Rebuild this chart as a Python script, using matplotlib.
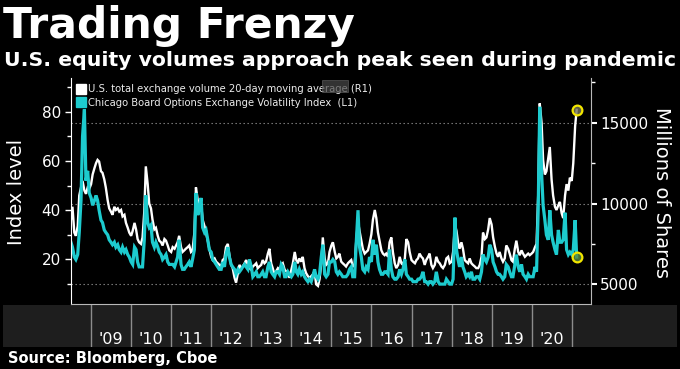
import matplotlib
matplotlib.use("Agg")
import matplotlib.pyplot as plt
import matplotlib.dates as mdates
import pandas as pd
from matplotlib.lines import Line2D
from matplotlib.patches import Rectangle

# semi-monthly readings (1st and 15th), Jul 2008 .. Feb 2021
vix = [
    27, 25, 21, 20, 22, 31, 44, 70, 81, 52, 56, 47,  # 2008 H2
    45, 42, 44, 46, 44, 40, 36, 35, 32, 31, 30, 28, 27, 26, 27, 25, 26, 24, 23, 25, 23, 24, 22, 21,  # 2009
    19, 18, 25, 24, 19, 17, 17, 17, 28, 46, 35, 33, 34, 27, 25, 27, 25, 23, 22, 20, 21, 22, 19, 18,  # 2010
    18, 18, 17, 19, 21, 28, 18, 16, 16, 17, 18, 19, 17, 20, 24, 47, 38, 41, 45, 33, 31, 32, 28, 24,  # 2011
    23, 20, 19, 18, 17, 16, 16, 19, 17, 22, 25, 21, 18, 17, 16, 14, 16, 15, 16, 17, 18, 17, 16, 20,  # 2012
    17, 13, 14, 15, 13, 13, 14, 15, 13, 13, 17, 19, 15, 14, 13, 15, 15, 14, 18, 17, 13, 13, 15, 14,  # 2013
    13, 14, 19, 15, 14, 16, 14, 15, 13, 12, 11, 12, 11, 13, 16, 13, 12, 14, 21, 26, 14, 13, 14, 19,  # 2014
    19, 20, 19, 15, 14, 15, 14, 13, 13, 13, 14, 16, 17, 13, 13, 26, 40, 25, 21, 16, 15, 17, 16, 21,  # 2015
    19, 28, 22, 26, 19, 16, 14, 14, 15, 15, 14, 24, 16, 13, 12, 12, 13, 16, 14, 16, 20, 14, 13, 12,  # 2016
    12, 11, 11, 11, 12, 12, 13, 15, 11, 11, 10, 11, 11, 10, 11, 15, 11, 10, 10, 10, 10, 12, 11, 10,  # 2017
    10, 12, 37, 24, 20, 17, 21, 17, 15, 13, 14, 13, 15, 12, 12, 13, 13, 12, 15, 22, 20, 19, 21, 26,  # 2018
    24, 19, 17, 15, 14, 14, 13, 12, 13, 18, 17, 15, 13, 13, 18, 22, 17, 15, 18, 14, 13, 12, 14, 13,  # 2019
    13, 13, 17, 15, 40, 82, 55, 42, 36, 30, 28, 40, 30, 27, 24, 22, 32, 27, 27, 28, 39, 24, 22, 23,  # 2020
    22, 24, 36, 21,  # 2021
]

volume = [
    9000, 9800, 8200, 8000, 8600, 10500, 11000, 11400, 10800, 10600, 11000, 10900,  # 2008 H2
    11200, 11800, 12200, 12500, 12700, 12600, 12000, 11900, 11500, 11000, 10200, 9700,
    9500, 9300, 9800, 9600, 9700, 9500, 9600, 9200, 9300, 8800, 8500, 8200,  # 2009
    8000, 8300, 8800, 8400, 7800, 7600, 7500, 7900, 9500, 12300, 11200, 10000,
    9700, 9000, 8400, 8500, 8000, 7700, 7600, 7400, 7800, 7700, 7400, 7100,  # 2010
    7000, 7300, 7200, 7400, 7600, 8000, 7300, 7000, 7100, 7200, 7300, 7400,
    7000, 7100, 8200, 11000, 10200, 9600, 10000, 9000, 8600, 8200, 7700, 7200,  # 2011
    6700, 6500, 6600, 6400, 6300, 6200, 6100, 6500, 6600, 7300, 7500, 6800,
    6200, 6000, 5400, 5100, 5700, 6200, 6000, 6100, 6300, 6500, 6200, 6000,  # 2012
    5900, 6100, 6200, 6300, 6000, 6100, 6200, 6500, 6300, 6400, 6900, 7200,
    6300, 6000, 5600, 5800, 6000, 5900, 6200, 6300, 5900, 5800, 5700, 5400,  # 2013
    5900, 6300, 7000, 6500, 6300, 6600, 6400, 6700, 6000, 5700, 5500, 5400,
    5500, 5600, 5800, 5000, 4900, 5300, 6300, 7900, 6600, 6200, 6300, 7000,  # 2014
    7400, 7600, 7000, 6600, 6700, 6900, 6400, 6300, 6200, 6100, 6300, 6400,
    6500, 6100, 6200, 7600, 8900, 8300, 7700, 7200, 6900, 7000, 7100, 7500,  # 2015
    8100, 9000, 9600, 9100, 8200, 7700, 7100, 6900, 6800, 6900, 6700, 7600,
    7900, 7000, 6300, 6000, 6200, 6700, 6300, 6200, 6600, 7800, 7600, 7000,  # 2016
    6500, 6400, 6300, 6500, 6600, 6900, 6700, 6600, 6200, 6500, 6700, 6900,
    6200, 6000, 6200, 6700, 6400, 6300, 6100, 6000, 6200, 6600, 6700, 6300,  # 2017
    6400, 7000, 8700, 8300, 7600, 7200, 7600, 7200, 6500, 6400, 6300, 6600,
    6300, 6200, 6100, 6000, 6000, 6200, 6700, 8200, 7800, 7900, 8400, 9100,  # 2018
    8700, 7900, 7300, 6900, 6700, 7000, 6600, 6400, 6600, 7400, 7200, 6900,
    6500, 6400, 7200, 7700, 7000, 6800, 7100, 6900, 6700, 6800, 6900, 6800,  # 2019
    6900, 7000, 7300, 7500, 10500, 16200, 15000, 12700, 11800, 12000, 12800, 13500,
    11500, 10500, 9800, 9600, 9900, 10100, 9400, 9100, 10500, 11200, 10800, 11600,  # 2020
    11400, 12500, 14800, 15800,  # 2021
]

dates = pd.date_range("2008-07-01", periods=len(vix), freq="SMS")
year_labels = ["'09", "'10", "'11", "'12", "'13", "'14", "'15", "'16", "'17", "'18", "'19", "'20"]
label_years = list(range(2009, 2021))
vol_label = "U.S. total exchange volume 20-day moving average (R1)"
vix_label = "Chicago Board Options Exchange Volatility Index  (L1)"

CYAN = "#1dcbce"
PANEL = "#1a1a1a"
FRAME = "#b8b8b8"
W, H = 680, 369


def fx(px):
    return px / W


def fy(py):
    return 1 - py / H


fig = plt.figure(figsize=(W / 100, H / 100), dpi=100, facecolor="black")

left, right, top, bottom = 70.7, 590.6, 78, 304.3
ax = fig.add_axes([fx(left), fy(bottom), fx(right) - fx(left), (bottom - top) / H])
ax2 = ax.twinx()
ax.set_zorder(2)
ax2.set_zorder(1)
ax.patch.set_visible(False)
ax2.patch.set_facecolor(PANEL)

x0 = pd.Timestamp("2008-06-29")
x1 = pd.Timestamp("2021-06-22")
ax.set_xlim(x0, x1)

ax2.plot(dates, volume, color="white", lw=1.7, solid_joinstyle="miter")
ax.plot(dates, vix, color=CYAN, lw=2.3, solid_joinstyle="miter")

ax2.plot(dates[-1], volume[-1], "o", ms=7, mfc=(0.45, 0.45, 0.35, 0.8),
         mec="#f2e600", mew=1.6, clip_on=False, zorder=5)
ax.plot(dates[-1], vix[-1], "o", ms=7, mfc=(0.35, 0.55, 0.25, 0.8),
        mec="#f2e600", mew=1.6, clip_on=False, zorder=5)

# axes ranges
ax.set_ylim(1.8, 93.7)
ax2.set_ylim(3760, 17772)

ax.set_xticks([pd.Timestamp("2010-01-01"), pd.Timestamp("2015-01-01"), pd.Timestamp("2020-01-01")])
ax.tick_params(axis="x", length=0, labelbottom=False)
ax2.tick_params(axis="x", length=0, labelbottom=False)

grid_kw = dict(color="#8a8a8a", linestyle=(0, (1.2, 2.4)), lw=0.8)
ax2.grid(axis="x", **grid_kw)
ax2.grid(axis="y", which="major", **grid_kw)

ax.set_yticks([20, 40, 60, 80])
ax.set_yticks([10, 30, 50, 70, 90], minor=True)
ax.tick_params(axis="y", which="major", colors="white", direction="out",
               length=4, width=1, labelsize=11, pad=3)
ax.tick_params(axis="y", which="minor", colors="white", direction="out",
               length=3, width=1)

ax2.set_yticks([5000, 10000, 15000])
ax2.set_yticks([7500, 12500, 17500], minor=True)
ax2.tick_params(axis="y", which="major", colors="white", direction="out",
                length=4, width=1.5, labelsize=11, pad=3)
ax2.tick_params(axis="y", which="minor", colors="white", direction="out",
                length=3, width=1)

for s in ["top", "right"]:
    ax.spines[s].set_visible(False)
ax.spines["left"].set_color("white")
ax.spines["bottom"].set_color(FRAME)
for s in ["top", "left", "bottom"]:
    ax2.spines[s].set_visible(False)
ax2.spines["right"].set_color(FRAME)

# legend
handles = [
    Line2D([], [], marker="s", ls="", ms=6.5, mfc="white", mec="white"),
    Line2D([], [], marker="s", ls="", ms=6.5, mfc=CYAN, mec=CYAN),
]
ax.legend(handles, [vol_label, vix_label], loc="upper left",
          bbox_to_anchor=(0.012, 0.972), frameon=False, fontsize=7.2,
          labelcolor="#ececec", handlelength=0.8, handletextpad=0.35,
          labelspacing=0.34, borderpad=0, borderaxespad=0)

fig.add_artist(Rectangle((fx(322), fy(92)), fx(348) - fx(322), 12 / H,
                         transform=fig.transFigure, facecolor="#4a4a4a",
                         edgecolor="#707070", lw=0.5, alpha=0.7, zorder=10))

# bottom year band
b_left, b_right, b_top, b_bottom = 3.3, 676.7, 305, 347.3
band = fig.add_axes([fx(b_left), fy(b_bottom), fx(b_right) - fx(b_left), (b_bottom - b_top) / H])
band.set_facecolor("#1e1e1e")
d0, d1 = mdates.date2num(x0), mdates.date2num(x1)
per_px = (d1 - d0) / (right - left)
band.set_xlim(d0 - (left - b_left) * per_px, d1 + (b_right - right) * per_px)
band.set_ylim(0, 1)
band.set_xticks([])
band.set_yticks([])
for s in band.spines.values():
    s.set_visible(False)
for yr in range(2009, 2022):
    band.axvline(mdates.date2num(pd.Timestamp(f"{yr}-01-01")), color="#8c8c8c", lw=1)
for yr, lab in zip(label_years, year_labels):
    band.text(mdates.date2num(pd.Timestamp(f"{yr}-07-02")), (b_bottom - 343.7) / (b_bottom - b_top),
              lab, color="white", fontsize=11.5, ha="center", va="baseline")

# texts
fig.text(fx(3), fy(38), "Trading Frenzy", color="white", fontsize=30.5,
         fontweight="bold", va="baseline")
fig.text(fx(4), fy(66), "U.S. equity volumes approach peak seen during pandemic",
         color="white", fontsize=14.7, fontweight="bold", va="baseline")
fig.text(fx(8), fy(363.5), "Source: Bloomberg, Cboe", color="white", fontsize=10.5,
         fontweight="bold", va="baseline")
fig.text(fx(17), fy(192), "Index level", color="white", fontsize=14,
         rotation=90, ha="center", va="center")
fig.text(fx(662), fy(192.5), "Millions of Shares", color="white", fontsize=14,
         rotation=270, ha="center", va="center")

fig.savefig("out.png", dpi=100, facecolor="black")
